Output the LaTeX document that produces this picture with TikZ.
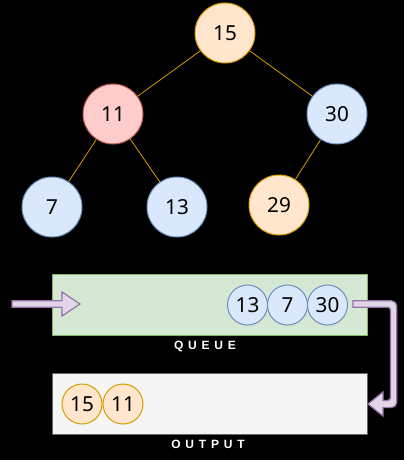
\documentclass[tikz,border=0pt]{standalone}
\usepackage{fontspec}
\setmainfont{Noto Sans}
\newfontfamily\capfont{Liberation Sans}
\usetikzlibrary{calc}

\definecolor{orangeF}{HTML}{FFE6CC}
\definecolor{orangeS}{HTML}{D79B00}
\definecolor{redF}{HTML}{FFCCCC}
\definecolor{redS}{HTML}{B85450}
\definecolor{blueF}{HTML}{DAE8FC}
\definecolor{blueS}{HTML}{6C8EBF}
\definecolor{greenF}{HTML}{D5E8D4}
\definecolor{greenS}{HTML}{82B366}
\definecolor{greyF}{HTML}{F5F5F5}
\definecolor{greyS}{HTML}{666666}
\definecolor{purpleF}{HTML}{E1D5E7}
\definecolor{purpleS}{HTML}{9673A6}

\newcommand{\spaced}[1]{\def\sep{}\foreach \ch in {#1}{\sep\ch\gdef\sep{\hspace{3.6pt}}}}

\begin{document}
\begin{tikzpicture}[x=0.75pt,y=-0.75pt,
  every node/.style={font=\fontsize{15.5pt}{18pt}\selectfont},
  treenode/.style={circle,draw,line width=0.75pt,minimum size=45pt,inner sep=0pt},
  qnode/.style={circle,draw,line width=0.75pt,minimum size=30pt,inner sep=0pt},
  orangeN/.style={fill=orangeF,draw=orangeS},
  redN/.style={fill=redF,draw=redS},
  blueN/.style={fill=blueF,draw=blueS},
  treeedge/.style={draw=orangeS,line width=0.6pt},
  panel/.style={line width=0.75pt},
  blockarrow/.style={fill=purpleF,draw=purpleS,line width=0.9pt,line join=miter},
  caption/.style={text=white,font=\capfont\bfseries\fontsize{9pt}{11pt}\selectfont}]

% canvas
\fill[black] (0,0) rectangle (404,460);
\useasboundingbox (0,0) rectangle (404,460);

% tree
\node[treenode,orangeN] (n15) at (225,33) {15};
\node[treenode,redN]    (n11) at (113,114) {11};
\node[treenode,blueN]   (n30) at (337,114) {30};
\node[treenode,blueN]   (n7)  at (52,207) {7};
\node[treenode,blueN]   (n13) at (177,207) {13};
\node[treenode,orangeN] (n29) at (279,205) {29};

\draw[treeedge] (n15) -- (n11);
\draw[treeedge] (n15) -- (n30);
\draw[treeedge] (n11) -- (n7);
\draw[treeedge] (n11) -- (n13);
\draw[treeedge] (n30) -- (n29);

% queue panel
\draw[panel,fill=greenF,draw=greenS] (52,274) rectangle (367,335);
\node[qnode,blueN] (q13) at (247.5,305) {13};
\node[qnode,blueN] (q7)  at (287.5,305) {7};
\node[qnode,blueN] (q30) at (327.5,305) {30};
\node[caption] (qlabel) at (205,346) {\spaced{Q,U,E,U,E}};

% output panel
\draw[panel,fill=greyF,draw=greyS] (52,373) rectangle (367,434);
\node[qnode,orangeN] (o15) at (82,404) {15};
\node[qnode,orangeN] (o11) at (123,404) {11};
\node[caption] (olabel) at (208,444) {\spaced{O,U,T,P,U,T}};

% incoming block arrow
\draw[blockarrow] (12,300.8) -- (62,300.8) -- (62,292) -- (80,304) -- (62,316)
  -- (62,307.2) -- (12,307.2) -- cycle;

% bent block arrow from the queue to the output
\draw[blockarrow] (353,300.8) [rounded corners=4] -- (396.8,300.8) -- (396.8,407.6)
  [sharp corners] -- (383,407.6) -- (383,416) -- (368,404) -- (383,392) -- (383,400.4)
  [rounded corners=2] -- (390.4,400.4) -- (390.4,307.2) [sharp corners] -- (353,307.2) -- cycle;
\end{tikzpicture}
\end{document}
